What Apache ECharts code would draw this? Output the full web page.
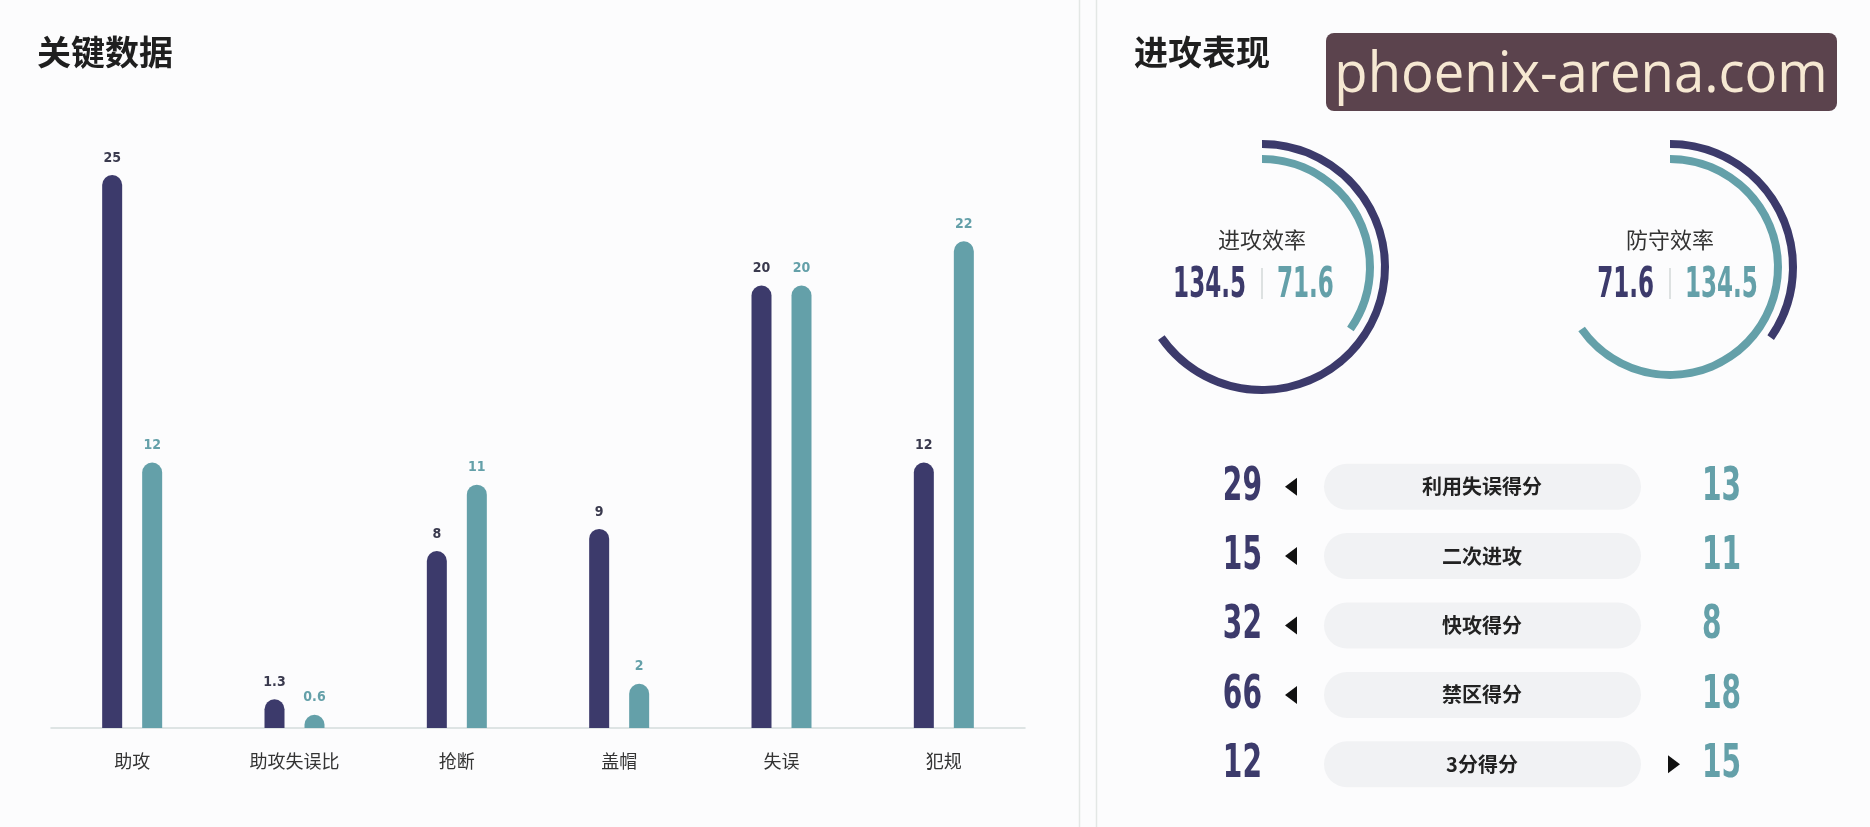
<!DOCTYPE html>
<html><head><meta charset="utf-8">
<script src="https://cdn.jsdelivr.net/npm/echarts@6/dist/echarts.min.js"></script>
<style>html,body{margin:0;padding:0;background:#fcfcfd;}#c{width:1870px;height:827px;}</style>
</head><body><div id="c"></div>
<script>
// ---- data ----
const categories = ['助攻', '助攻失误比', '抢断', '盖帽', '失误', '犯规'];
const teamA = [25, 1.3, 8, 9, 20, 12];
const teamB = [12, 0.6, 11, 2, 20, 22];
const effLabels = ['进攻效率', '防守效率'];
const effA = [134.5, 71.6];
const effB = [71.6, 134.5];
const rowLabels = ['利用失误得分', '二次进攻', '快攻得分', '禁区得分', '3分得分'];
const rowA = [29, 15, 32, 66, 12];
const rowB = [13, 11, 8, 18, 15];
const titles = ['关键数据', '进攻表现'];
const watermark = 'phoenix-arena.com';

// ---- styles ----
const NAVY = '#3c3a6b', TEAL = '#64a0a9';
const NUMFONT = "'DejaVu Sans Condensed','Liberation Sans Narrow',sans-serif";
const CJK = "'Noto Sans CJK SC','Noto Sans',sans-serif";

const chart = echarts.init(document.getElementById('c'));

const gaugeCenters = [[1262, 267], [1670, 267]];
const pieSeries = [];
effLabels.forEach((name, i) => {
  const common = {type: 'pie', center: gaugeCenters[i], startAngle: 90, clockwise: true, silent: true,
    label: {show: false}, labelLine: {show: false}, emphasis: {disabled: true}, animation: false};
  pieSeries.push(Object.assign({}, common, {radius: [119, 127],
    data: [{value: effA[i], name: 'a', itemStyle: {color: NAVY}}, {value: effB[i], name: 'b', itemStyle: {color: 'rgba(0,0,0,0)'}}]}));
  pieSeries.push(Object.assign({}, common, {radius: [104, 112],
    data: [{value: effB[i], name: 'b', itemStyle: {color: TEAL}}, {value: effA[i], name: 'a', itemStyle: {color: 'rgba(0,0,0,0)'}}]}));
});

const graphics = [
  {type: 'line', shape: {x1: 1079.5, y1: 0, x2: 1079.5, y2: 827}, style: {stroke: '#e3e7e5', lineWidth: 1.5}},
  {type: 'line', shape: {x1: 1096.5, y1: 0, x2: 1096.5, y2: 827}, style: {stroke: '#e3e7e5', lineWidth: 1.5}},
  {type: 'rect', shape: {x: 1326, y: 33, width: 511, height: 78, r: 8}, style: {fill: '#5b434d'}},
  {type: 'text', x: 1581, y: 76, scaleX: 0.955, style: {text: watermark, fontSize: 57, fontFamily: "'Open Sans',sans-serif", fill: '#f6e8d2', align: 'center', verticalAlign: 'middle'}}
];
effLabels.forEach((name, i) => {
  const [cx, cy] = gaugeCenters[i];
  graphics.push({type: 'text', x: cx, y: cy - 27, style: {text: name, fontSize: 22, fontFamily: CJK, fill: '#333', align: 'center', verticalAlign: 'middle'}});
  graphics.push({type: 'text', x: cx - 16, y: cy + 19, scaleX: 0.61, style: {text: String(effA[i]), fontSize: 42, fontWeight: 'bold', fontFamily: NUMFONT, fill: NAVY, align: 'right', verticalAlign: 'middle'}});
  graphics.push({type: 'line', shape: {x1: cx, y1: cy + 1, x2: cx, y2: cy + 32}, style: {stroke: '#d3d8d7', lineWidth: 1.5}});
  graphics.push({type: 'text', x: cx + 15, y: cy + 19, scaleX: 0.61, style: {text: String(effB[i]), fontSize: 42, fontWeight: 'bold', fontFamily: NUMFONT, fill: TEAL, align: 'left', verticalAlign: 'middle'}});
});

const option = {
  backgroundColor: '#fcfcfd',
  animation: false,
  title: titles.map((t, i) => ({text: t, left: i === 0 ? 32 : 1129, top: 30,
    textStyle: {fontSize: 34, fontWeight: 'bold', fontFamily: CJK, color: '#1f1f1f'}})),
  grid: [
    {left: 51, right: 845, top: 175, bottom: 99},
    {left: 1100, right: 10, top: 452, bottom: 28}
  ],
  xAxis: [
    {type: 'category', data: categories, gridIndex: 0,
      axisLine: {lineStyle: {color: '#d3dcdc', width: 1.5}}, axisTick: {show: false},
      axisLabel: {fontSize: 18, color: '#333', fontFamily: CJK, margin: 24}},
    {type: 'value', gridIndex: 1, min: 0, max: 1, show: false}
  ],
  yAxis: [
    {type: 'value', gridIndex: 0, min: 0, max: 25, show: false, splitLine: {show: false}},
    {type: 'category', gridIndex: 1, data: rowLabels, inverse: true, show: false}
  ],
  series: [
    {type: 'bar', name: 'A', data: teamA, barWidth: 20, barGap: '100%', xAxisIndex: 0, yAxisIndex: 0,
      itemStyle: {color: NAVY, borderRadius: [10, 10, 0, 0]},
      label: {show: true, position: 'top', distance: 10, fontSize: 14, fontWeight: 'bold', fontFamily: NUMFONT, color: '#3a3a4e'}},
    {type: 'bar', name: 'B', data: teamB, barWidth: 20, xAxisIndex: 0, yAxisIndex: 0,
      itemStyle: {color: TEAL, borderRadius: [10, 10, 0, 0]},
      label: {show: true, position: 'top', distance: 10, fontSize: 14, fontWeight: 'bold', fontFamily: NUMFONT, color: TEAL}},
    ...pieSeries,
    {type: 'custom', xAxisIndex: 1, yAxisIndex: 1, silent: true,
      data: rowLabels.map((l, i) => [0, i]),
      renderItem: (params, api) => {
        const i = params.dataIndex;
        const y = api.coord([0, api.value(1)])[1];
        const children = [
          {type: 'rect', shape: {x: 1324, y: y - 23, width: 317, height: 46, r: 23}, style: {fill: '#f1f2f4'}},
          {type: 'text', x: 1482, y: y, style: {text: rowLabels[i], fontSize: 20, fontWeight: 'bold', fontFamily: CJK, fill: '#222', align: 'center', verticalAlign: 'middle'}},
          {type: 'text', x: 1262, y: y + 1, scaleX: 0.68, style: {text: String(rowA[i]), fontSize: 46, fontWeight: 'bold', fontFamily: NUMFONT, fill: NAVY, align: 'right', verticalAlign: 'middle'}},
          {type: 'text', x: 1702, y: y + 1, scaleX: 0.68, style: {text: String(rowB[i]), fontSize: 46, fontWeight: 'bold', fontFamily: NUMFONT, fill: TEAL, align: 'left', verticalAlign: 'middle'}}
        ];
        if (rowA[i] > rowB[i]) children.push({type: 'polygon', shape: {points: [[1285, y], [1297, y - 9], [1297, y + 9]]}, style: {fill: '#111'}});
        else if (rowB[i] > rowA[i]) children.push({type: 'polygon', shape: {points: [[1680, y], [1668, y - 9], [1668, y + 9]]}, style: {fill: '#111'}});
        return {type: 'group', children};
      }}
  ],
  graphic: graphics
};
chart.setOption(option);
</script></body></html>
